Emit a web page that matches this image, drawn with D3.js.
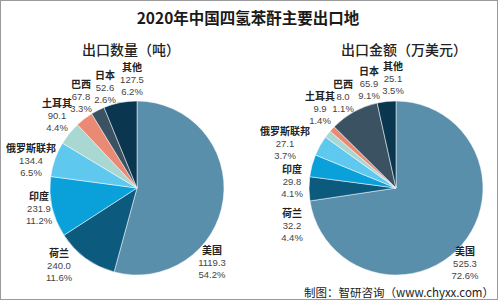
<!DOCTYPE html>
<html>
<head>
<meta charset="utf-8">
<script src="https://cdnjs.cloudflare.com/ajax/libs/d3/7.8.5/d3.min.js"></script>
<style>
  body { margin: 0; background: #fff; }
  svg { display: block; }
  .name { font-family: "Noto Sans CJK SC", sans-serif; font-weight: bold; font-size: 10px; fill: #222; }
  .num { font-family: "Liberation Sans", sans-serif; font-size: 9.5px; fill: #444; }
</style>
</head>
<body>
<script>
// categories (clockwise from 12 o'clock)
var countries = ["美国", "荷兰", "印度", "俄罗斯联邦", "土耳其", "巴西", "日本", "其他"];
// export volume (tonnes)
var qtyValues = [1119.3, 240.0, 231.9, 134.4, 90.1, 67.8, 52.6, 127.5];
var qtyPct = ["54.2%", "11.6%", "11.2%", "6.5%", "4.4%", "3.3%", "2.6%", "6.2%"];
// export value (10k USD)
var amtValues = [525.3, 32.2, 29.8, 27.1, 9.9, 8.0, 65.9, 25.1];
var amtPct = ["72.6%", "4.4%", "4.1%", "3.7%", "1.4%", "1.1%", "9.1%", "3.5%"];

var colors = ["#5a8fab", "#0d5a7f", "#0aa0d9", "#5ec8ef", "#a9d8d3", "#ea8a74", "#3b5263", "#0a3650"];

// label offsets from the pie centre (layout only)
var qtyLabelPos = [[75, 62], [-78, 65], [-98, 8], [-106, -40], [-80, -85], [-56, -104], [-32, -113], [-5, -121]];
var amtLabelPos = [[69, 63], [-104, 25], [-104, -19], [-111, -57], [-76, -92], [-53, -104], [-27, -117], [-3, -122]];

var W = 498, H = 300;
var svg = d3.select("body").append("svg").attr("width", W).attr("height", H);

svg.append("rect")
    .attr("x", 0.5).attr("y", 0.5)
    .attr("width", W - 1).attr("height", H - 1)
    .attr("fill", "#fff").attr("stroke", "#9a9a9a");

svg.append("text")
    .attr("x", 248).attr("y", 24)
    .attr("text-anchor", "middle")
    .style("font-family", "'Noto Sans CJK SC', sans-serif")
    .style("font-weight", "bold")
    .style("font-size", "15.5px")
    .attr("fill", "#1a1a1a")
    .text("2020年中国四氢苯酐主要出口地");

function drawPie(cx, cy, title, titleX, values, pct, labelPos) {
  var r = 87;
  var g = svg.append("g").attr("transform", "translate(" + cx + "," + cy + ")");

  svg.append("text")
      .attr("x", titleX).attr("y", 55)
      .attr("text-anchor", "middle")
      .style("font-family", "'Noto Sans CJK SC', sans-serif")
      .style("font-weight", 500)
      .style("font-size", "14px")
      .attr("fill", "#222")
      .text(title);

  var pie = d3.pie().sort(null).value(function(d) { return d; });
  var arc = d3.arc().innerRadius(0).outerRadius(r);
  var arcs = pie(values);

  g.selectAll("path")
    .data(arcs)
    .enter().append("path")
      .attr("d", arc)
      .attr("fill", function(d, i) { return colors[i]; })
      .attr("stroke", "#fff")
      .attr("stroke-width", 0.5);

  var lab = g.selectAll(".lab")
    .data(arcs)
    .enter().append("g")
      .attr("class", "lab")
      .attr("transform", function(d, i) { return "translate(" + labelPos[i][0] + "," + labelPos[i][1] + ")"; });

  lab.append("text").attr("class", "name")
      .attr("text-anchor", "middle").attr("y", 4)
      .text(function(d, i) { return countries[i]; });
  lab.append("text").attr("class", "num")
      .attr("text-anchor", "middle").attr("y", 16)
      .text(function(d) { return d3.format(".1f")(d.data); });
  lab.append("text").attr("class", "num")
      .attr("text-anchor", "middle").attr("y", 28)
      .text(function(d, i) { return pct[i]; });
}

drawPie(137, 188, "出口数量（吨）", 131, qtyValues, qtyPct, qtyLabelPos);
drawPie(396, 188, "出口金额（万美元）", 404, amtValues, amtPct, amtLabelPos);

svg.append("text")
    .attr("x", 494).attr("y", 297)
    .attr("text-anchor", "end")
    .style("font-family", "'Noto Sans CJK SC', sans-serif")
    .style("font-size", "11.5px")
    .attr("fill", "#222")
    .text("制图：智研咨询（www.chyxx.com）");
</script>
</body>
</html>
